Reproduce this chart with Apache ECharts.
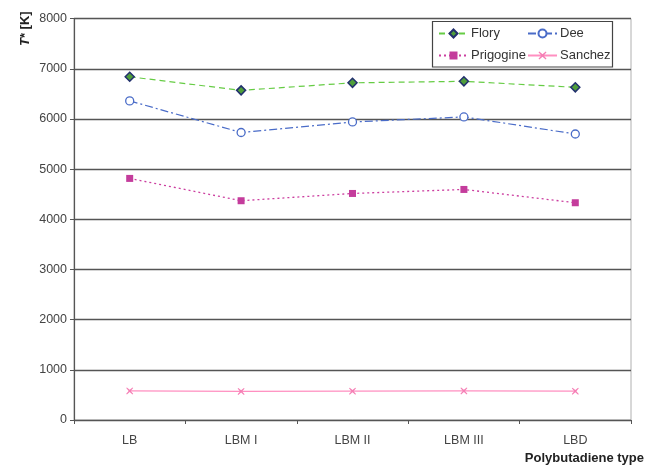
<!DOCTYPE html>
<html>
<head>
<meta charset="utf-8">
<script src="https://cdn.jsdelivr.net/npm/echarts@6/dist/echarts.min.js"></script>
<style>
  html, body { margin: 0; padding: 0; background: #fff; }
  #chart { width: 645px; height: 467px; }
</style>
</head>
<body>
<div id="chart"></div>
<script>
// Characteristic temperature T* per polybutadiene type, four equation-of-state models
const categories = ['LB', 'LBM I', 'LBM II', 'LBM III', 'LBD'];
const flory     = [6840, 6570, 6720, 6750, 6630];
const dee       = [6360, 5730, 5940, 6040, 5700];
const prigogine = [4815, 4370, 4515, 4595, 4330];
const sanchez   = [580, 570, 575, 580, 575];
const yTicks = { min: 0, max: 8000, interval: 1000 };

const FONT = 'Liberation Sans, Arial, sans-serif';
const xMark = 'path://M1,0 L5,3.5 L9,0 L10,1 L6.5,5 L10,9 L9,10 L5,6.5 L1,10 L0,9 L3.5,5 L0,1 Z';

const chart = echarts.init(document.getElementById('chart'), null, { renderer: 'canvas' });

function legendAt(name, left, top) {
  return {
    data: [name], left: left, top: top, orient: 'horizontal',
    itemWidth: 29, itemHeight: 10, itemGap: 0, padding: 0,
    textStyle: { fontFamily: FONT, fontSize: 13, color: '#333', padding: [0, 0, 0, -2] }
  };
}

chart.setOption({
  animation: false,
  grid: { left: 74, right: 14, top: 18.6, bottom: 47, show: true, borderColor: '#b0b0b0', borderWidth: 1 },
  legend: [
    legendAt('Flory', 438, 27),
    legendAt('Dee', 527, 27),
    legendAt('Prigogine', 438, 49),
    legendAt('Sanchez', 527, 49)
  ],
  graphic: [
    { type: 'rect', shape: { x: 432.5, y: 21.5, width: 180, height: 45.5 },
      style: { fill: '#fff', stroke: '#444', lineWidth: 1.2 }, z: -1, zlevel: 0 },
    { type: 'text', right: 1, top: 452,
      style: { text: 'Polybutadiene type', font: 'bold 13px ' + FONT, fill: '#222' } },
    { type: 'text', x: 19, y: 46, rotation: Math.PI / 2,
      style: { text: '{i|T}{b|* [K]}', rich: {
        i: { font: 'italic bold 13px ' + FONT, fill: '#222' },
        b: { font: 'bold 13px ' + FONT, fill: '#222' } } } }
  ],
  xAxis: {
    type: 'category', data: categories, boundaryGap: true,
    axisLine: { lineStyle: { color: '#555', width: 1.2 } },
    axisTick: { show: true, length: 4, lineStyle: { color: '#555' } },
    axisLabel: { fontFamily: FONT, fontSize: 12.5, color: '#444', margin: 14 }
  },
  yAxis: {
    type: 'value', min: yTicks.min, max: yTicks.max, interval: yTicks.interval,
    axisLine: { show: true, lineStyle: { color: '#555', width: 1.2 } },
    axisTick: { show: true, length: 4, lineStyle: { color: '#555' } },
    axisLabel: { fontFamily: FONT, fontSize: 12.5, color: '#444', margin: 7,
      formatter: v => String(v) },
    splitLine: { lineStyle: { color: '#555', width: 1.3 } }
  },
  series: [
    { name: 'Flory', type: 'line', data: flory, symbol: 'diamond', symbolSize: 9,
      lineStyle: { color: '#66cc44', width: 1.2, type: [6, 4] },
      itemStyle: { color: '#4f9e3a', borderColor: '#22306e', borderWidth: 1.5 } },
    { name: 'Dee', type: 'line', data: dee, symbol: 'circle', symbolSize: 8,
      lineStyle: { color: '#4a6cc8', width: 1.2, type: [8, 3, 2, 3] },
      itemStyle: { color: '#fff', borderColor: '#4a6cc8', borderWidth: 1.3 } },
    { name: 'Prigogine', type: 'line', data: prigogine, symbol: 'rect', symbolSize: 7,
      lineStyle: { color: '#cc3fa0', width: 1.3, type: [2, 3] },
      itemStyle: { color: '#c43c9c', borderWidth: 0 } },
    { name: 'Sanchez', type: 'line', data: sanchez, symbol: xMark, symbolSize: 7,
      lineStyle: { color: '#ff8fc0', width: 1.3, type: 'solid' },
      itemStyle: { color: '#f57fb5', borderWidth: 0 } }
  ]
});
</script>
</body>
</html>
